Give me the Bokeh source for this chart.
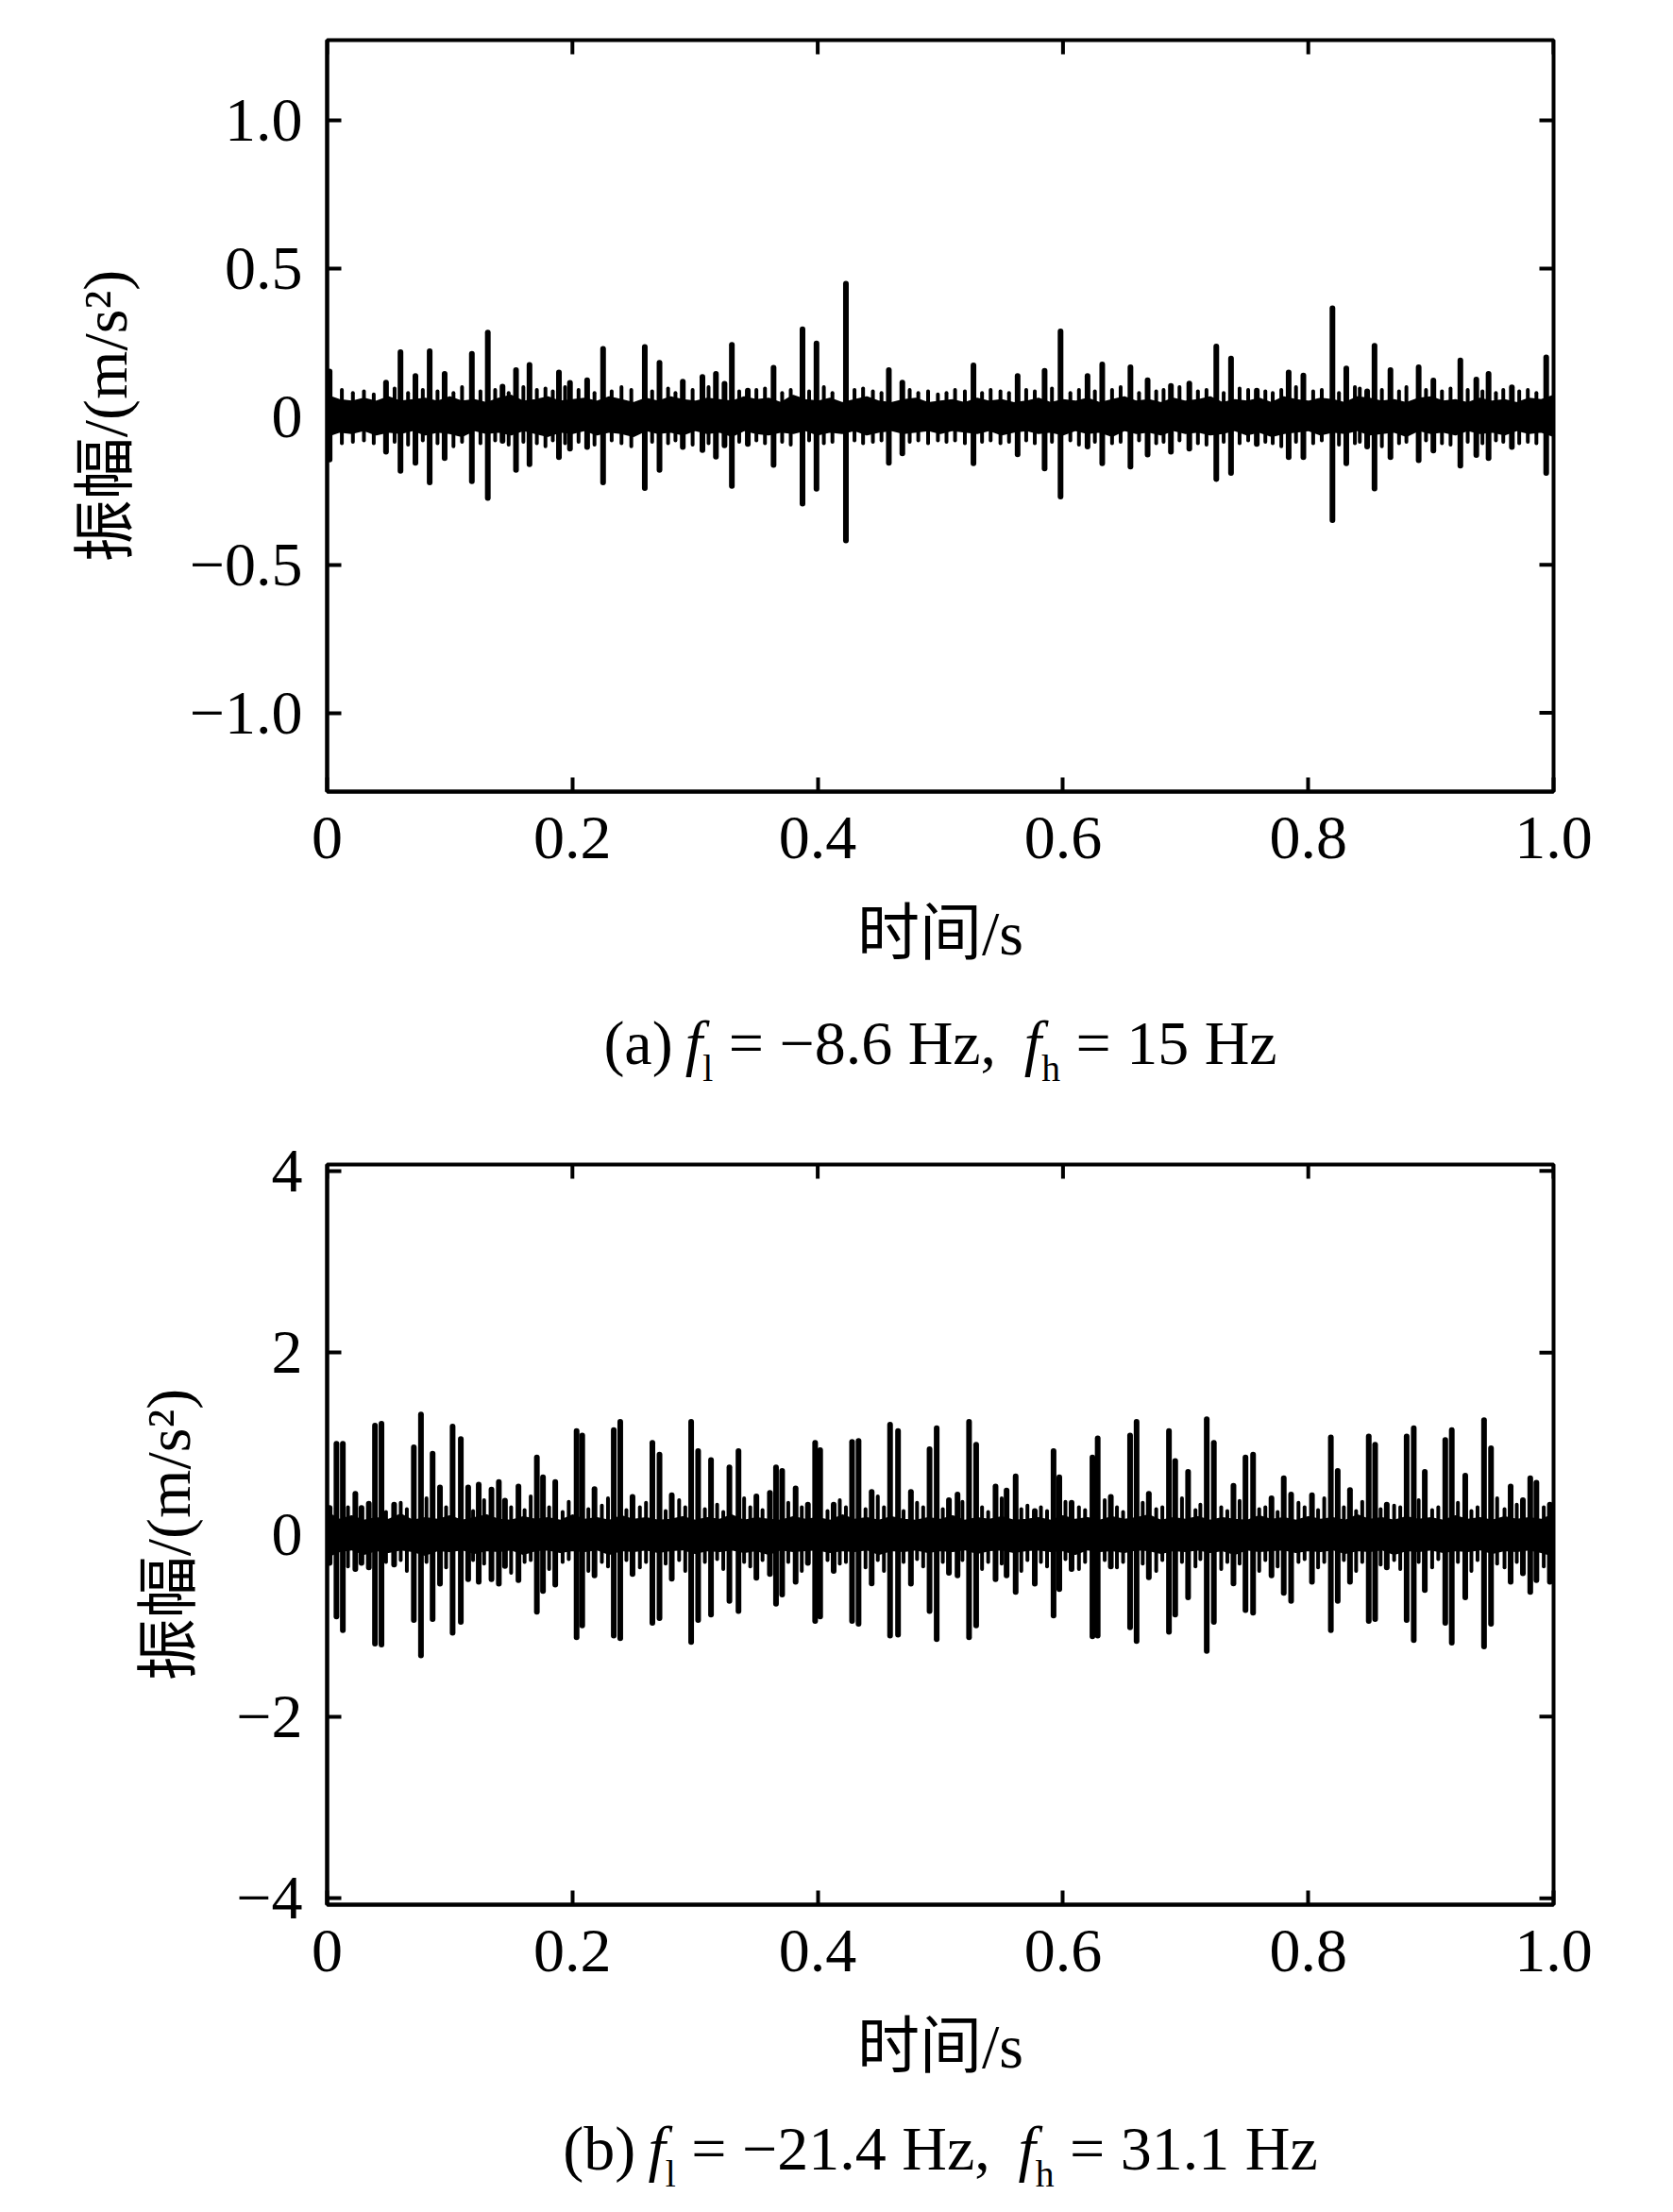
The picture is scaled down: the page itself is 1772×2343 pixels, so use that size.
import numpy as np
from bokeh.plotting import figure
from bokeh.models import Range1d, FixedTicker
from bokeh.layouts import column
from bokeh.embed import file_html
from bokeh.resources import INLINE
from bokeh.core.properties import value

# ---------------- data ----------------
x_ticks = [0.0, 0.2, 0.4, 0.6, 0.8, 1.0]
x_tick_labels = ["0", "0.2", "0.4", "0.6", "0.8", "1.0"]

ya_ticks = [-1.0, -0.5, 0.0, 0.5, 1.0]
ya_tick_labels = ["\u22121.0", "\u22120.5", "0", "0.5", "1.0"]
yb_ticks = [-4.0, -2.0, 0.0, 2.0, 4.0]
yb_tick_labels = ["\u22124", "\u22122", "0", "2", "4"]

env_step = 0.01  # sampling interval of the read envelope of the background band (s)

# panel (a): envelope of the dense background band
ua = [0.07, 0.055, 0.05, 0.06, 0.05, 0.065, 0.05, 0.055, 0.06, 0.05,
      0.065, 0.05, 0.055, 0.045, 0.06, 0.07, 0.05, 0.055, 0.065, 0.05,
      0.055, 0.06, 0.05, 0.065, 0.055, 0.045, 0.06, 0.05, 0.065, 0.055,
      0.05, 0.06, 0.055, 0.05, 0.065, 0.055, 0.06, 0.045, 0.07, 0.055,
      0.05, 0.06, 0.045, 0.055, 0.065, 0.05, 0.045, 0.055, 0.06, 0.045,
      0.05, 0.055, 0.045, 0.06, 0.05, 0.055, 0.045, 0.05, 0.06, 0.045,
      0.055, 0.05, 0.06, 0.045, 0.055, 0.065, 0.05, 0.055, 0.045, 0.06,
      0.05, 0.055, 0.065, 0.045, 0.055, 0.05, 0.06, 0.045, 0.065, 0.055,
      0.05, 0.06, 0.055, 0.045, 0.065, 0.06, 0.05, 0.055, 0.045, 0.06,
      0.065, 0.05, 0.055, 0.045, 0.06, 0.05, 0.055, 0.045, 0.06, 0.055, 0.07]
la = [-0.065, -0.05, -0.055, -0.045, -0.06, -0.05, -0.055, -0.045, -0.06, -0.05,
      -0.055, -0.065, -0.045, -0.055, -0.05, -0.06, -0.045, -0.055, -0.065, -0.05,
      -0.055, -0.045, -0.06, -0.05, -0.055, -0.065, -0.045, -0.055, -0.05, -0.06,
      -0.045, -0.055, -0.05, -0.065, -0.045, -0.055, -0.06, -0.05, -0.055, -0.045,
      -0.06, -0.05, -0.055, -0.045, -0.06, -0.05, -0.045, -0.055, -0.05, -0.045,
      -0.055, -0.045, -0.05, -0.055, -0.045, -0.06, -0.05, -0.045, -0.055, -0.05,
      -0.06, -0.045, -0.055, -0.05, -0.065, -0.045, -0.055, -0.05, -0.06, -0.045,
      -0.055, -0.05, -0.06, -0.055, -0.045, -0.06, -0.05, -0.065, -0.055, -0.05,
      -0.045, -0.06, -0.05, -0.055, -0.045, -0.06, -0.055, -0.05, -0.065, -0.045,
      -0.055, -0.05, -0.06, -0.045, -0.055, -0.05, -0.06, -0.045, -0.055, -0.05, -0.065]

# panel (a): impulses (time, positive peak, negative peak)
ta = [0.002, 0.048, 0.0598, 0.072, 0.0836, 0.0958, 0.118, 0.131, 0.143, 0.154,
      0.165, 0.189, 0.198, 0.212, 0.225, 0.259, 0.271, 0.29, 0.306, 0.317,
      0.324, 0.330, 0.343, 0.364, 0.3876, 0.399, 0.423, 0.458, 0.469, 0.527,
      0.563, 0.585, 0.598, 0.620, 0.632, 0.655, 0.669, 0.688, 0.703, 0.725,
      0.737, 0.758, 0.784, 0.796, 0.8197, 0.831, 0.848, 0.854, 0.867, 0.890,
      0.902, 0.924, 0.937, 0.947, 0.966, 0.994]
hia = [0.152, 0.115, 0.218, 0.137, 0.221, 0.144, 0.212, 0.284, 0.101, 0.157,
       0.175, 0.149, 0.114, 0.123, 0.229, 0.235, 0.182, 0.118, 0.134, 0.144,
       0.111, 0.242, 0.088, 0.165, 0.295, 0.247, 0.449, 0.157, 0.115, 0.173,
       0.137, 0.155, 0.288, 0.137, 0.176, 0.167, 0.123, 0.104, 0.112, 0.237,
       0.196, 0.088, 0.149, 0.139, 0.366, 0.163, 0.085, 0.239, 0.157, 0.167,
       0.122, 0.190, 0.125, 0.144, 0.099, 0.200]
loa = [-0.145, -0.119, -0.183, -0.156, -0.222, -0.140, -0.218, -0.275, -0.082, -0.180,
       -0.161, -0.137, -0.108, -0.103, -0.222, -0.241, -0.180, -0.103, -0.113, -0.135,
       -0.097, -0.234, -0.092, -0.163, -0.294, -0.244, -0.418, -0.156, -0.124, -0.158,
       -0.127, -0.175, -0.270, -0.101, -0.158, -0.169, -0.128, -0.119, -0.108, -0.211,
       -0.190, -0.092, -0.137, -0.137, -0.350, -0.158, -0.101, -0.243, -0.137, -0.147,
       -0.115, -0.166, -0.130, -0.140, -0.103, -0.190]

# panel (a): small fringe peaks around the band
tsa = [0.012, 0.021, 0.030, 0.038, 0.055, 0.066, 0.078, 0.090, 0.103, 0.110,
       0.125, 0.137, 0.148, 0.160, 0.171, 0.178, 0.184, 0.194, 0.205, 0.218,
       0.232, 0.240, 0.248, 0.265, 0.278, 0.284, 0.298, 0.311, 0.336, 0.350,
       0.357, 0.371, 0.378, 0.393, 0.405, 0.412, 0.430, 0.437, 0.445, 0.452,
       0.475, 0.482, 0.490, 0.498, 0.505, 0.512, 0.520, 0.534, 0.541, 0.549,
       0.556, 0.570, 0.577, 0.591, 0.606, 0.613, 0.626, 0.640, 0.647, 0.662,
       0.676, 0.682, 0.695, 0.710, 0.717, 0.731, 0.744, 0.751, 0.765, 0.771,
       0.778, 0.790, 0.804, 0.811, 0.825, 0.838, 0.842, 0.860, 0.874, 0.880,
       0.896, 0.909, 0.916, 0.930, 0.942, 0.953, 0.959, 0.972, 0.979, 0.986]
hsa = [0.09, 0.08, 0.085, 0.075, 0.095, 0.08, 0.09, 0.085, 0.08, 0.1,
       0.085, 0.09, 0.08, 0.1, 0.09, 0.095, 0.085, 0.1, 0.09, 0.08,
       0.085, 0.1, 0.09, 0.085, 0.095, 0.08, 0.09, 0.1, 0.085, 0.09,
       0.095, 0.08, 0.09, 0.085, 0.1, 0.08, 0.09, 0.095, 0.085, 0.08,
       0.09, 0.08, 0.085, 0.075, 0.08, 0.09, 0.085, 0.08, 0.09, 0.085,
       0.08, 0.09, 0.085, 0.095, 0.08, 0.09, 0.085, 0.09, 0.1, 0.08,
       0.085, 0.09, 0.1, 0.085, 0.09, 0.08, 0.095, 0.09, 0.085, 0.08,
       0.09, 0.1, 0.085, 0.09, 0.08, 0.1, 0.095, 0.09, 0.085, 0.1,
       0.09, 0.085, 0.095, 0.09, 0.085, 0.08, 0.09, 0.085, 0.09, 0.08]
lsa = [-0.09, -0.085, -0.08, -0.09, -0.085, -0.095, -0.08, -0.09, -0.1, -0.085,
       -0.09, -0.08, -0.095, -0.085, -0.09, -0.1, -0.08, -0.09, -0.085, -0.095,
       -0.08, -0.09, -0.1, -0.085, -0.09, -0.08, -0.095, -0.09, -0.085, -0.08,
       -0.09, -0.085, -0.095, -0.08, -0.09, -0.085, -0.08, -0.09, -0.085, -0.08,
       -0.085, -0.08, -0.09, -0.08, -0.085, -0.08, -0.09, -0.085, -0.08, -0.09,
       -0.085, -0.08, -0.09, -0.085, -0.08, -0.095, -0.085, -0.09, -0.085, -0.08,
       -0.09, -0.085, -0.08, -0.09, -0.095, -0.085, -0.09, -0.08, -0.085, -0.09,
       -0.1, -0.085, -0.09, -0.08, -0.095, -0.09, -0.085, -0.1, -0.09, -0.085,
       -0.08, -0.09, -0.095, -0.085, -0.09, -0.08, -0.085, -0.09, -0.085, -0.09]

# panel (b): envelope of the dense background band
ub = [0.24, 0.16, 0.2, 0.15, 0.18, 0.16, 0.22, 0.15, 0.18, 0.16,
      0.2, 0.15, 0.18, 0.21, 0.16, 0.15, 0.19, 0.16, 0.18, 0.15,
      0.21, 0.16, 0.18, 0.15, 0.2, 0.16, 0.18, 0.15, 0.16, 0.19,
      0.15, 0.18, 0.16, 0.21, 0.15, 0.18, 0.16, 0.15, 0.19, 0.16,
      0.18, 0.15, 0.21, 0.16, 0.18, 0.15, 0.19, 0.16, 0.15, 0.18,
      0.16, 0.2, 0.15, 0.18, 0.16, 0.19, 0.15, 0.16, 0.18, 0.15,
      0.2, 0.16, 0.18, 0.15, 0.19, 0.16, 0.18, 0.21, 0.15, 0.18,
      0.16, 0.19, 0.15, 0.18, 0.16, 0.15, 0.2, 0.16, 0.18, 0.15,
      0.19, 0.16, 0.18, 0.15, 0.21, 0.16, 0.18, 0.15, 0.19, 0.16,
      0.18, 0.15, 0.2, 0.16, 0.18, 0.15, 0.19, 0.16, 0.18, 0.16, 0.22]
lb = [-0.24, -0.18, -0.16, -0.21, -0.17, -0.19, -0.16, -0.18, -0.22, -0.17,
      -0.18, -0.16, -0.2, -0.17, -0.18, -0.16, -0.21, -0.17, -0.16, -0.19,
      -0.17, -0.18, -0.16, -0.21, -0.17, -0.18, -0.16, -0.19, -0.17, -0.16,
      -0.2, -0.17, -0.18, -0.16, -0.19, -0.17, -0.21, -0.16, -0.18, -0.17,
      -0.16, -0.19, -0.17, -0.18, -0.16, -0.21, -0.17, -0.18, -0.16, -0.19,
      -0.17, -0.18, -0.16, -0.2, -0.17, -0.16, -0.19, -0.17, -0.16, -0.18,
      -0.17, -0.21, -0.16, -0.18, -0.17, -0.19, -0.16, -0.17, -0.2, -0.17,
      -0.18, -0.16, -0.19, -0.17, -0.21, -0.16, -0.18, -0.17, -0.16, -0.19,
      -0.17, -0.18, -0.16, -0.2, -0.17, -0.18, -0.16, -0.21, -0.17, -0.18,
      -0.16, -0.19, -0.17, -0.18, -0.16, -0.2, -0.17, -0.18, -0.16, -0.19, -0.23]

# panel (b): impulses (time, positive peak, negative peak)
tb = [0.002, 0.0076, 0.0128, 0.023, 0.028, 0.034, 0.039, 0.0443, 0.0546, 0.0707,
      0.0765, 0.086, 0.092, 0.1023, 0.109, 0.115, 0.1236, 0.134, 0.140, 0.145,
      0.156, 0.171, 0.176, 0.186, 0.2034, 0.208, 0.218, 0.2337, 0.239, 0.249,
      0.2652, 0.271, 0.281, 0.2968, 0.3025, 0.313, 0.328, 0.3354, 0.350, 0.361,
      0.366, 0.371, 0.382, 0.392, 0.3979, 0.402, 0.413, 0.428, 0.4333, 0.444,
      0.459, 0.4655, 0.476, 0.4912, 0.497, 0.507, 0.514, 0.5234, 0.5292, 0.545,
      0.554, 0.5614, 0.577, 0.5923, 0.597, 0.607, 0.624, 0.6283, 0.639, 0.6547,
      0.660, 0.670, 0.6864, 0.6915, 0.702, 0.7172, 0.723, 0.739, 0.7488, 0.755,
      0.770, 0.780, 0.786, 0.803, 0.8184, 0.824, 0.834, 0.8493, 0.8545, 0.864,
      0.8802, 0.886, 0.895, 0.9117, 0.917, 0.928, 0.9433, 0.949, 0.965, 0.975,
      0.981, 0.986, 0.997]
hib = [0.294, 1.00, 1.00, 0.45, 0.294, 0.34, 1.20, 1.22, 0.33, 0.96,
       1.32, 0.89, 0.52, 1.19, 1.05, 0.52, 0.55, 0.495, 0.58, 0.374,
       0.53, 0.85, 0.63, 0.58, 1.14, 1.09, 0.50, 1.15, 1.24, 0.415,
       1.01, 0.88, 0.433, 1.24, 0.92, 0.82, 0.74, 0.92, 0.42, 0.46,
       0.74, 0.70, 0.51, 0.33, 1.01, 0.93, 0.33, 1.02, 1.03, 0.47,
       1.21, 1.14, 0.47, 0.94, 1.17, 0.38, 0.44, 1.24, 0.99, 0.53,
       0.485, 0.64, 0.26, 0.92, 0.63, 0.35, 0.85, 1.06, 0.415, 1.09,
       1.24, 0.45, 1.14, 0.81, 0.69, 1.27, 1.01, 0.537, 0.85, 0.88,
       0.40, 0.62, 0.44, 0.433, 1.07, 0.70, 0.49, 1.08, 0.99, 0.33,
       1.08, 1.17, 0.69, 1.04, 1.15, 0.65, 1.26, 0.95, 0.53, 0.38,
       0.62, 0.57, 0.33]
lob = [-0.312, -0.90, -1.05, -0.38, -0.312, -0.36, -1.20, -1.21, -0.33, -0.94,
       -1.33, -0.93, -0.54, -1.08, -0.96, -0.49, -0.52, -0.49, -0.54, -0.346,
       -0.50, -0.85, -0.62, -0.55, -1.13, -1.00, -0.45, -1.11, -1.14, -0.434,
       -0.97, -0.92, -0.485, -1.18, -0.94, -0.88, -0.73, -0.84, -0.475, -0.434,
       -0.76, -0.66, -0.52, -0.312, -0.95, -0.90, -0.40, -0.95, -0.98, -0.537,
       -1.11, -1.10, -0.54, -0.84, -1.15, -0.42, -0.45, -1.13, -1.00, -0.49,
       -0.45, -0.63, -0.54, -0.89, -0.60, -0.38, -1.12, -1.11, -0.35, -1.02,
       -1.17, -0.47, -1.07, -0.88, -0.69, -1.28, -0.96, -0.537, -0.83, -0.86,
       -0.45, -0.64, -0.73, -0.52, -1.05, -0.73, -0.52, -0.95, -0.93, -0.36,
       -0.94, -1.16, -0.61, -0.97, -1.19, -0.69, -1.23, -0.98, -0.52, -0.426,
       -0.63, -0.50, -0.52]

# panel (b): medium fringe peaks around the band
tsb = [0.017, 0.048, 0.060, 0.065, 0.081, 0.097, 0.119, 0.128, 0.150, 0.161,
       0.166, 0.181, 0.192, 0.197, 0.213, 0.224, 0.229, 0.244, 0.255, 0.260,
       0.276, 0.287, 0.292, 0.308, 0.318, 0.323, 0.340, 0.345, 0.355, 0.376,
       0.387, 0.408, 0.418, 0.423, 0.439, 0.449, 0.454, 0.470, 0.481, 0.486,
       0.502, 0.518, 0.534, 0.539, 0.550, 0.566, 0.571, 0.582, 0.587, 0.602,
       0.613, 0.618, 0.634, 0.644, 0.649, 0.665, 0.676, 0.681, 0.697, 0.708,
       0.712, 0.729, 0.734, 0.744, 0.760, 0.765, 0.775, 0.792, 0.797, 0.808,
       0.813, 0.829, 0.839, 0.844, 0.859, 0.870, 0.875, 0.890, 0.901, 0.906,
       0.922, 0.933, 0.938, 0.954, 0.960, 0.970, 0.992]
hsb = [0.3, 0.25, 0.35, 0.28, 0.4, 0.3, 0.26, 0.38, 0.3, 0.27,
       0.42, 0.3, 0.25, 0.36, 0.28, 0.32, 0.4, 0.27, 0.3, 0.35,
       0.26, 0.38, 0.3, 0.28, 0.33, 0.25, 0.4, 0.3, 0.27, 0.35,
       0.3, 0.26, 0.38, 0.3, 0.28, 0.42, 0.3, 0.26, 0.35, 0.3,
       0.28, 0.36, 0.3, 0.25, 0.4, 0.28, 0.32, 0.3, 0.26, 0.36,
       0.3, 0.27, 0.38, 0.3, 0.25, 0.35, 0.28, 0.3, 0.4, 0.27,
       0.33, 0.3, 0.26, 0.37, 0.28, 0.3, 0.25, 0.35, 0.3, 0.27,
       0.4, 0.3, 0.26, 0.36, 0.28, 0.32, 0.3, 0.38, 0.27, 0.3,
       0.35, 0.26, 0.3, 0.4, 0.28, 0.33, 0.3]
lsb = [-0.35, -0.3, -0.28, -0.4, -0.3, -0.36, -0.28, -0.32, -0.42, -0.3,
       -0.28, -0.38, -0.3, -0.27, -0.4, -0.3, -0.35, -0.28, -0.36, -0.3,
       -0.32, -0.28, -0.4, -0.3, -0.27, -0.38, -0.3, -0.35, -0.28, -0.3,
       -0.4, -0.28, -0.32, -0.3, -0.36, -0.28, -0.4, -0.3, -0.27, -0.35,
       -0.3, -0.28, -0.38, -0.3, -0.32, -0.4, -0.28, -0.3, -0.35, -0.27,
       -0.38, -0.3, -0.28, -0.36, -0.3, -0.32, -0.4, -0.28, -0.3, -0.35,
       -0.27, -0.38, -0.3, -0.32, -0.4, -0.28, -0.35, -0.3, -0.27, -0.36,
       -0.3, -0.28, -0.4, -0.3, -0.33, -0.28, -0.38, -0.3, -0.36, -0.27,
       -0.3, -0.4, -0.28, -0.32, -0.36, -0.3, -0.35]

x_label = "时间/s"
y_label = "振幅/(m/s\u00b2)"
caption_a = [("(a)", "n"), ("f", "i"), ("l", "s"), ("= \u22128.6 Hz,", "n"),
             ("f", "i"), ("h", "s"), ("= 15 Hz", "n")]
caption_b = [("(b)", "n"), ("f", "i"), ("l", "s"), ("= \u221221.4 Hz,", "n"),
             ("f", "i"), ("h", "s"), ("= 31.1 Hz", "n")]

# ---------------- styling / layout ----------------
FONT = "'Liberation Serif', 'Noto Sans CJK SC'"
FS = 66
LEFT, RIGHT = 346, 63
FRAME_W = 1299
W = LEFT + FRAME_W + RIGHT
TICK = 15


def style_axis(ax, ticks, labels, standoff):
    ax.ticker = FixedTicker(ticks=ticks)
    ax.major_label_overrides = {float(t): l for t, l in zip(ticks, labels)}
    ax.axis_line_width = 4
    ax.axis_line_color = "black"
    ax.major_tick_in = TICK
    ax.major_tick_out = 0
    ax.major_tick_line_width = 4
    ax.major_tick_line_color = "black"
    ax.minor_tick_in = 0
    ax.minor_tick_out = 0
    ax.major_label_text_font = FONT
    ax.major_label_text_color = "black"
    ax.major_label_text_font_size = f"{FS}px"
    ax.major_label_standoff = standoff


def panel(height, top, bottom, yr, yt, ytl, ue, le, ts, hi, lo, ts2, hi2, lo2, ylab_standoff):
    p = figure(width=W, height=height, x_range=Range1d(0, 1), y_range=Range1d(*yr),
               output_backend="svg", toolbar_location=None,
               min_border_left=LEFT, min_border_right=RIGHT,
               min_border_top=top, min_border_bottom=bottom,
               background_fill_color="white", border_fill_color="white")
    p.grid.visible = False
    p.outline_line_color = "black"
    p.outline_line_width = 4
    style_axis(p.xaxis[0], x_ticks, x_tick_labels, 27)
    style_axis(p.yaxis[0], yt, ytl, 26)
    p.xaxis[0].axis_label = x_label
    p.yaxis[0].axis_label = y_label
    for ax in (p.xaxis[0], p.yaxis[0]):
        ax.axis_label_text_font = FONT
        ax.axis_label_text_font_size = f"{FS}px"
        ax.axis_label_text_font_style = "normal"
        ax.axis_label_text_color = "black"
    p.xaxis[0].axis_label_standoff = 40
    p.yaxis[0].axis_label_standoff = ylab_standoff

    # mirrored inward ticks on the top and right edges
    p.ray(x=x_ticks, y=[yr[1]] * len(x_ticks), length=TICK, length_units="screen",
          angle=-np.pi / 2, line_color="black", line_width=4)
    p.ray(x=[1.0] * len(yt), y=yt, length=TICK, length_units="screen",
          angle=np.pi, line_color="black", line_width=4)

    te = np.arange(len(ue)) * env_step
    p.varea(x=te, y1=le, y2=ue, fill_color="black", fill_alpha=1.0)
    p.line(x=te, y=ue, line_color="black", line_width=2.5)
    p.line(x=te, y=le, line_color="black", line_width=2.5)
    p.segment(x0=ts2, y0=lo2, x1=ts2, y1=hi2, line_color="black", line_width=4,
              line_cap="round")
    p.segment(x0=ts, y0=lo, x1=ts, y1=hi, line_color="black", line_width=6,
              line_cap="round")
    return p


# Times-compatible advance widths (em) for caption layout
ADV = {"(": 0.333, ")": 0.333, "a": 0.444, "b": 0.5, " ": 0.25, "f": 0.278,
       "l": 0.278, "h": 0.5, "=": 0.564, "\u2212": 0.564, ".": 0.25, ",": 0.25,
       "H": 0.722, "z": 0.444}
for d in "0123456789":
    ADV[d] = 0.5


def caption(pieces, height, baseline):
    c = figure(width=W, height=height, x_range=Range1d(0, FRAME_W), y_range=Range1d(0, height),
               output_backend="svg", toolbar_location=None,
               min_border_left=LEFT, min_border_right=RIGHT,
               min_border_top=0, min_border_bottom=0,
               x_axis_type=None, y_axis_type=None, outline_line_color=None,
               background_fill_color="white", border_fill_color="white")
    c.grid.visible = False
    sub = 0.6 * FS
    gaps = [0, 0.2, 0, 0.25, 0.45, 0, 0.25]
    xs, total = [], 0.0
    for (txt, kind), g in zip(pieces, gaps):
        total += g * FS
        xs.append(total)
        size = sub if kind == "s" else FS
        total += sum(ADV[ch] for ch in txt) * size
    x0 = FRAME_W / 2 - total / 2
    groups = {"n": ([], [], []), "i": ([], [], []), "s": ([], [], [])}
    for (txt, kind), x in zip(pieces, xs):
        gx, gy, gt = groups[kind]
        gx.append(x0 + x)
        gy.append(baseline - (27 if kind == "s" else 0))
        gt.append(txt)
    for kind, (gx, gy, gt) in groups.items():
        c.text(x=gx, y=gy, text=gt, text_font=value("Liberation Serif"),
               text_font_size=f"{sub if kind == 's' else FS}px",
               text_font_style="italic" if kind == "i" else "normal",
               text_baseline="alphabetic", text_align="left", text_color="black")
    return c


pa = panel(1060, 42, 222, (-1.266, 1.271), ya_ticks, ya_tick_labels, ua, la,
           ta, hia, loa, tsa, hsa, lsa, 50)
ca = caption(caption_a, 120, 76)
pb = panel(1052, 53, 215, (-4.07, 4.07), yb_ticks, yb_tick_labels, ub, lb,
           tb, hib, lob, tsb, hsb, lsb, 32)
cb = caption(caption_b, 103, 60)

layout = column(pa, ca, pb, cb, spacing=0)
open("out.html", "w").write(file_html(layout, INLINE))
